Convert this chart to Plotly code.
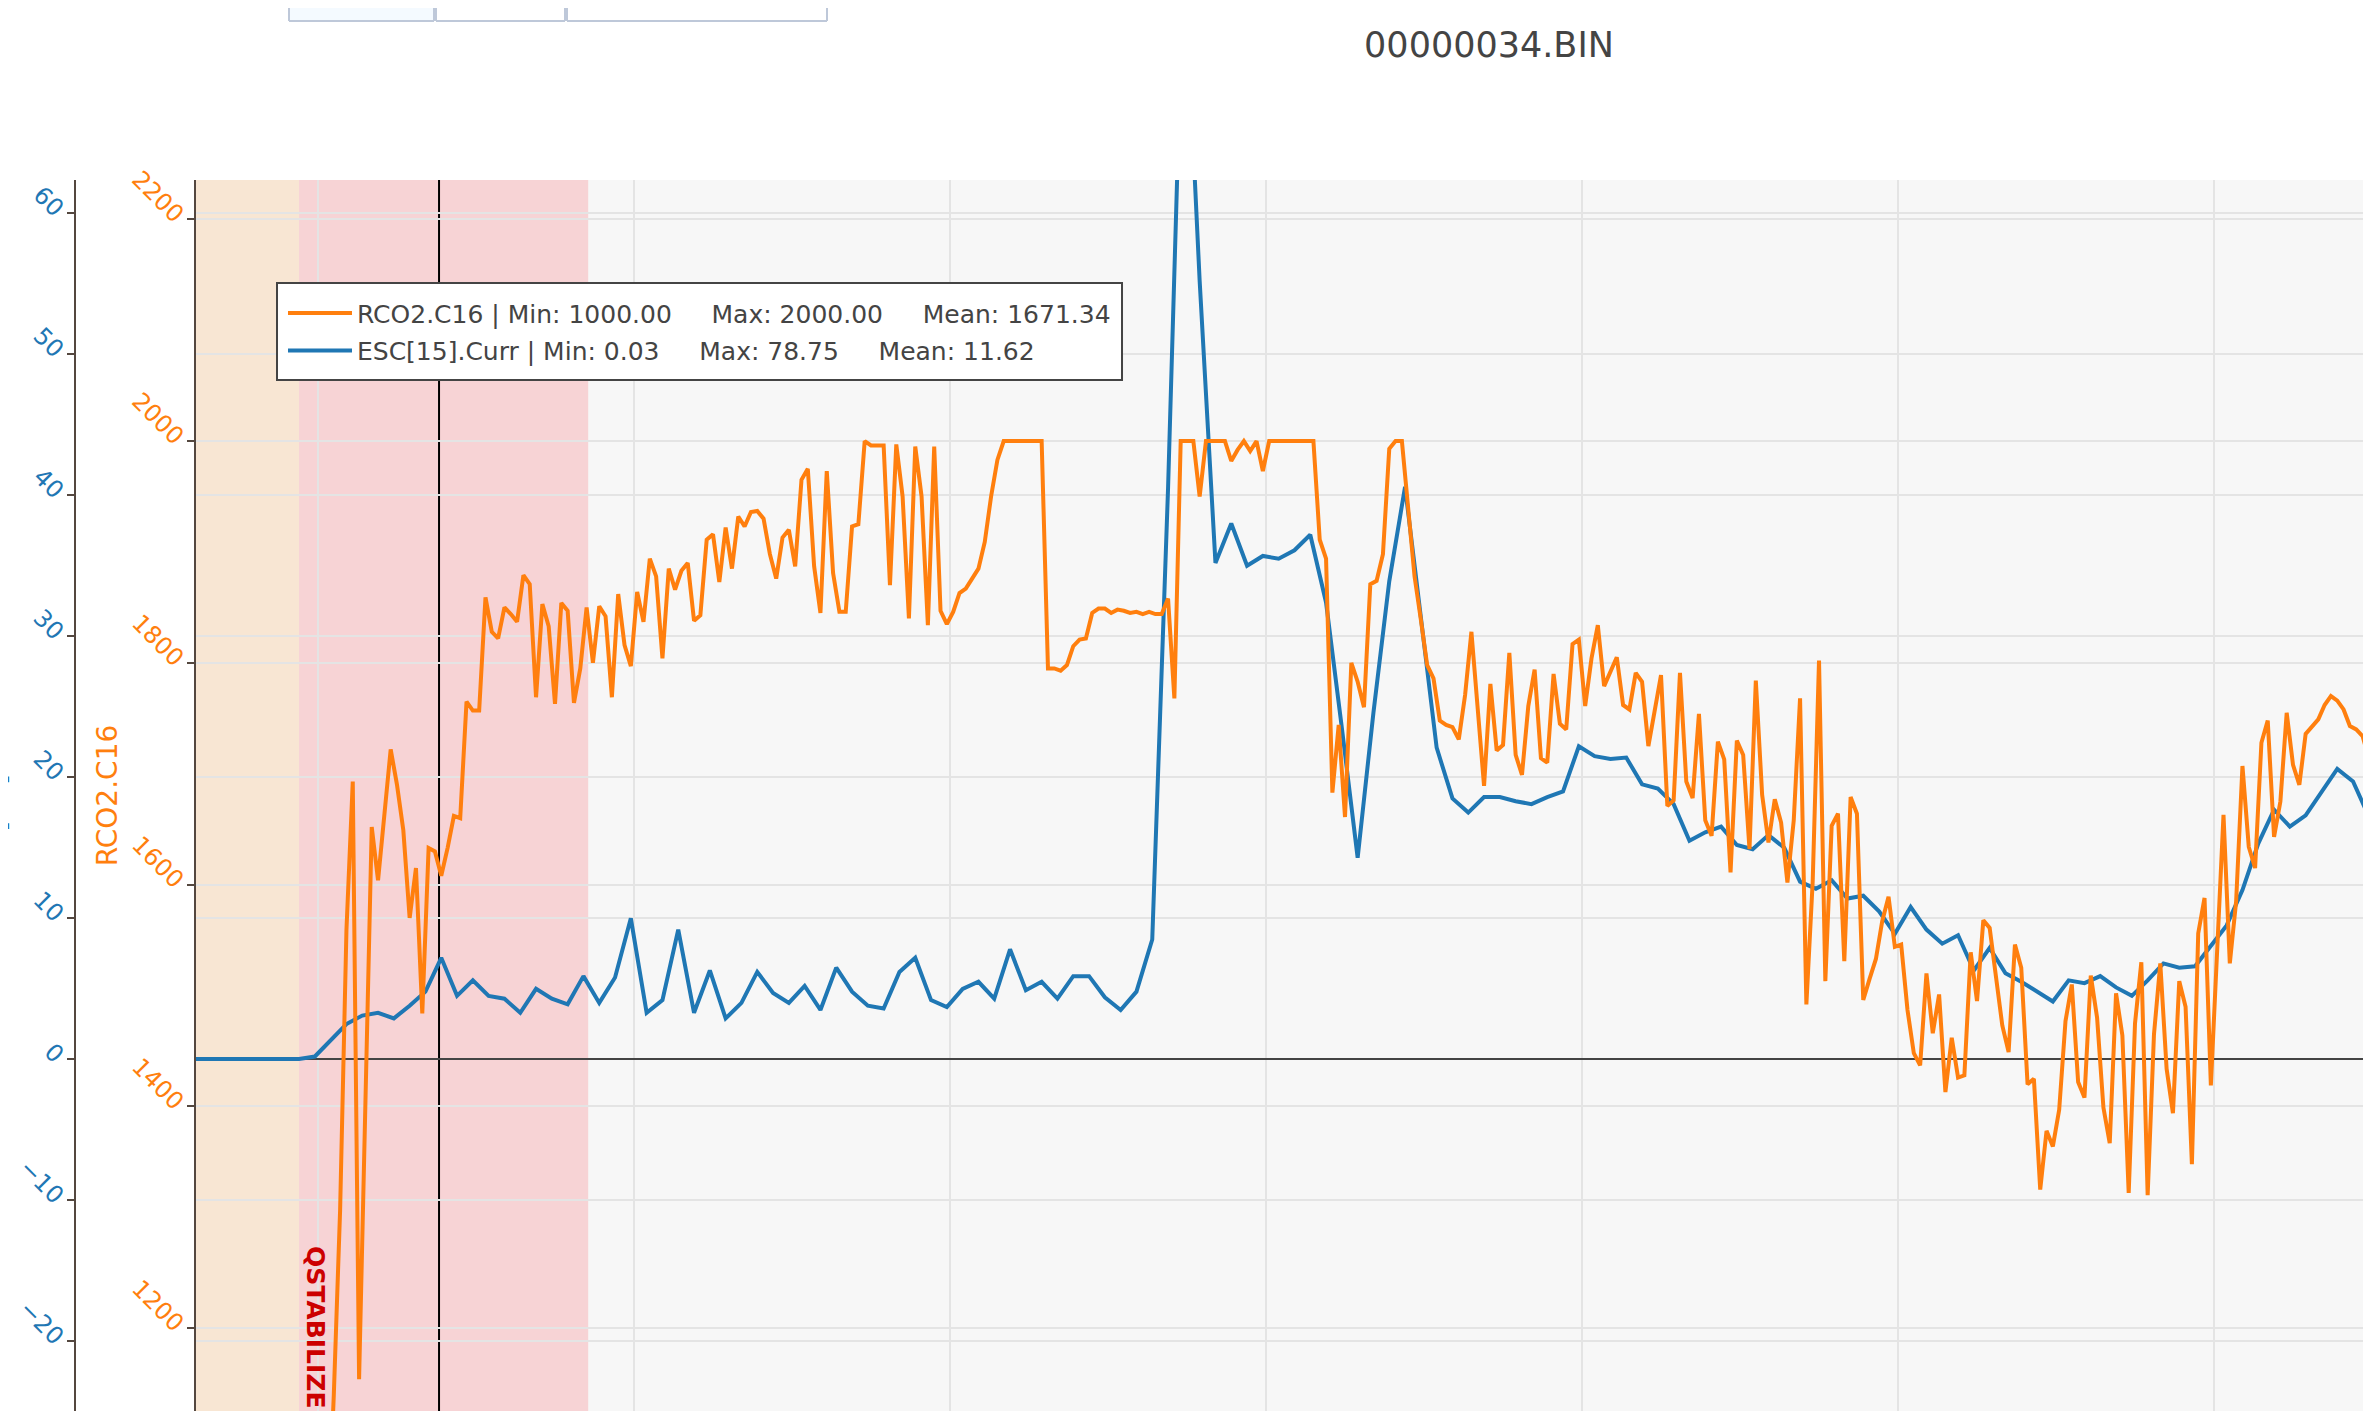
import plotly.graph_objects as go

# ---------------- data ----------------
TITLE = "00000034.BIN"
ORANGE_NAME = "RCO2.C16"
BLUE_NAME = "ESC[15].Curr"
ORANGE_STATS = "Min: 1000.00     Max: 2000.00     Mean: 1671.34"
BLUE_STATS = "Min: 0.03     Max: 78.75     Mean: 11.62"

# ESC[15].Curr, sampled every 0.5 s starting at t = 5.9 s
BLUE_T0 = 5.9
BLUE_DT = 0.5
BLUE_V = [
    0.03, 0.03, 0.03, 0.03, 0.03, 0.03, 0.03, 0.03,
    0.2, 1.4, 2.5, 3.1, 3.3, 2.9, 3.8, 4.8, 7.2, 4.5,
    5.6, 4.5, 4.3, 3.3, 5.0, 4.3, 3.9, 5.9, 4.0, 5.8,
    10.0, 3.3, 4.2, 9.2, 3.3, 6.3, 2.9, 4.0, 6.2, 4.7,
    4.0, 5.2, 3.5, 6.5, 4.8, 3.8, 3.6, 6.2, 7.2, 4.2,
    3.7, 5.0, 5.5, 4.3, 7.8, 4.9, 5.5, 4.3, 5.9, 5.9,
    4.4, 3.5, 4.8, 8.5, 40.5, 78.75, 55.2, 35.2, 38.0, 35.0,
    35.7, 35.5, 36.1, 37.2, 32.4, 23.5, 14.3, 24.6, 33.9, 40.6,
    31.3, 22.1, 18.5, 17.5, 18.6, 18.6, 18.3, 18.1, 18.6, 19.0,
    22.2, 21.5, 21.3, 21.4, 19.5, 19.2, 18.1, 15.5, 16.1, 16.5,
    15.2, 14.9, 15.9, 15.0, 12.6, 12.1, 12.7, 11.4, 11.6, 10.5,
    8.9, 10.8, 9.2, 8.2, 8.8, 6.3, 7.9, 6.1, 5.5, 4.8,
    4.1, 5.6, 5.4, 5.9, 5.1, 4.5, 5.6, 6.8, 6.5, 6.6,
    8.0, 9.5, 12.0, 15.3, 17.7, 16.5, 17.3, 18.9, 20.6, 19.7,
    17.2, 15.0,
]

# RCO2.C16 (time in s, value)
ORANGE_T = [
    6.0, 10.3, 10.5, 10.7, 10.9, 11.1, 11.3, 11.7, 11.9, 12.3, 12.5, 12.7, 12.9,
    13.1, 13.3, 13.5, 13.7, 13.9, 14.1, 14.3, 14.5, 14.7, 14.9, 15.1, 15.3, 15.5,
    15.7, 15.9, 16.1, 16.3, 16.5, 16.7, 16.9, 17.1, 17.3, 17.5, 17.7, 17.9, 18.1,
    18.3, 18.5, 18.7, 18.9, 19.1, 19.3, 19.5, 19.7, 19.9, 20.1, 20.3, 20.5, 20.7,
    20.9, 21.1, 21.3, 21.5, 21.7, 21.9, 22.1, 22.3, 22.5, 22.7, 22.9, 23.1, 23.3,
    23.5, 23.7, 23.9, 24.1, 24.3, 24.5, 24.7, 24.9, 25.1, 25.3, 25.5, 25.7, 25.9,
    26.1, 26.3, 26.5, 26.7, 26.9, 27.1, 27.3, 27.5, 27.9, 28.1, 28.3, 28.5, 28.7,
    28.9, 29.1, 29.3, 29.5, 29.7, 29.9, 30.1, 30.3, 30.5, 30.7, 30.9, 31.1, 31.3,
    31.5, 31.7, 32.9, 33.1, 33.3, 33.5, 33.7, 33.9, 34.1, 34.3, 34.5, 34.7, 34.9,
    35.1, 35.3, 35.5, 35.7, 35.9, 36.1, 36.3, 36.5, 36.7, 36.9, 37.1, 37.3, 37.7,
    37.9, 38.1, 38.7, 38.9, 39.1, 39.3, 39.5, 39.7, 39.9, 40.1, 41.5, 41.7, 41.9,
    42.1, 42.3, 42.5, 42.7, 42.9, 43.1, 43.3, 43.5, 43.7, 43.9, 44.1, 44.3, 44.7,
    44.9, 45.1, 45.3, 45.5, 45.7, 45.9, 46.1, 46.3, 46.5, 46.7, 46.9, 47.1, 47.3,
    47.5, 47.7, 47.9, 48.1, 48.3, 48.5, 48.7, 48.9, 49.1, 49.3, 49.5, 49.7, 49.9,
    50.1, 50.3, 50.5, 50.7, 50.9, 51.1, 51.3, 51.5, 51.7, 51.9, 52.1, 52.3, 52.5,
    52.7, 52.9, 53.1, 53.3, 53.5, 53.7, 53.9, 54.1, 54.3, 54.5, 54.7, 54.9, 55.1,
    55.3, 55.5, 55.7, 55.9, 56.1, 56.3, 56.5, 56.7, 56.9, 57.1, 57.3, 57.5, 57.7,
    57.9, 58.1, 58.3, 58.5, 58.7, 58.9, 59.1, 59.3, 59.5, 59.7, 59.9, 60.1, 60.3,
    60.5, 60.7, 60.9, 61.1, 61.3, 61.5, 61.7, 61.9, 62.1, 62.3, 62.5, 62.7, 62.9,
    63.1, 63.3, 63.5, 63.7, 63.9, 64.1, 64.3, 64.5, 64.7, 64.9, 65.1, 65.3, 65.5,
    65.7, 65.9, 66.1, 66.3, 66.5, 66.7, 66.9, 67.1, 67.3, 67.5, 67.7, 67.9, 68.1,
    68.3, 68.5, 68.7, 68.9, 69.1, 69.3, 69.5, 69.7, 69.9, 70.1, 70.3, 70.5, 70.7,
    70.9, 71.1, 71.3, 71.5, 71.7, 71.9, 72.1, 72.3, 72.5, 72.7, 72.9, 73.1, 73.3,
    73.5, 73.7, 73.9, 74.1, 74.3, 74.5, 74.7, 74.9, 75.1,
]
ORANGE_V = [
    1000, 1000, 1140, 1307, 1559, 1693, 1154, 1652, 1604, 1722, 1690, 1649, 1570,
    1615, 1484, 1633, 1630, 1608, 1633, 1662, 1660, 1765, 1757, 1757, 1859, 1828,
    1822, 1850, 1844, 1837, 1879, 1871, 1769, 1853, 1833, 1763, 1854, 1847, 1764,
    1795, 1850, 1800, 1851, 1842, 1769, 1862, 1816, 1797, 1864, 1837, 1894, 1878,
    1804, 1885, 1866, 1883, 1890, 1838, 1843, 1911, 1916, 1873, 1922, 1885, 1932,
    1923, 1936, 1937, 1930, 1898, 1876, 1913, 1920, 1887, 1965, 1975, 1887, 1845,
    1973, 1881, 1846, 1846, 1923, 1925, 2000, 1996, 1996, 1870, 1997, 1950, 1840,
    1995, 1950, 1834, 1995, 1847, 1835, 1846, 1863, 1867, 1876, 1885, 1909, 1950,
    1983, 2000, 2000, 1795, 1795, 1793, 1798, 1815, 1821, 1822, 1845, 1849, 1849,
    1845, 1848, 1847, 1845, 1846, 1844, 1846, 1844, 1844, 1858, 1768, 2000, 2000,
    1950, 2000, 2000, 1982, 1992, 2000, 1991, 2000, 1973, 2000, 2000, 1911, 1894,
    1683, 1744, 1661, 1800, 1783, 1760, 1871, 1874, 1898, 1993, 2000, 2000, 1878,
    1839, 1798, 1786, 1748, 1744, 1742, 1731, 1771, 1828, 1761, 1689, 1781, 1721,
    1726, 1809, 1717, 1699, 1761, 1794, 1714, 1710, 1790, 1745, 1740, 1817, 1821,
    1761, 1804, 1834, 1779, 1792, 1805, 1762, 1758, 1791, 1783, 1725, 1756, 1789,
    1671, 1676, 1791, 1693, 1678, 1754, 1658, 1644, 1729, 1713, 1611, 1730, 1717,
    1632, 1784, 1681, 1638, 1677, 1656, 1602, 1658, 1768, 1492, 1603, 1802, 1513,
    1653, 1664, 1531, 1679, 1664, 1496, 1515, 1533, 1567, 1589, 1544, 1546, 1487,
    1448, 1437, 1520, 1466, 1501, 1413, 1462, 1426, 1428, 1539, 1495, 1568, 1561,
    1517, 1473, 1449, 1546, 1525, 1420, 1425, 1325, 1378, 1364, 1397, 1477, 1510,
    1422, 1408, 1518, 1480, 1399, 1367, 1502, 1464, 1322, 1475, 1530, 1320, 1465,
    1529, 1434, 1394, 1513, 1490, 1348, 1556, 1588, 1419, 1545, 1663, 1529, 1585,
    1707, 1634, 1615, 1728, 1748, 1643, 1675, 1755, 1708, 1690, 1736, 1743, 1749,
    1762, 1770, 1766, 1758, 1743, 1740, 1734, 1714, 1711,
]

# flight-mode bands and cursor (time in s)
PRE_MODE_START = 4.0
MODE_NAME = "QSTABILIZE"
MODE_START = 9.4
MODE_END = 18.55
CURSOR_T = 13.83

X_RANGE = [6.139, 88.86]
BLUE_RANGE = [-24.94, 62.36]
ORANGE_RANGE = [1125.4, 2235.4]

BUTTON_LABELS = ["Normalize", "Absolute", "Toggle flight modes"]

# ---------------- figure ----------------
W, H = 2962, 1573
ORANGE = "#ff7f0e"
BLUE = "#1f77b4"
AXIS = "#54473f"
GRID = "#e4e4e4"

blue_t = [round(BLUE_T0 + BLUE_DT * i, 2) for i in range(len(BLUE_V))]

fig = go.Figure()
fig.add_trace(go.Scatter(
    x=ORANGE_T, y=ORANGE_V, yaxis="y2", mode="lines",
    name=f"{ORANGE_NAME} | {ORANGE_STATS}", legendgroup="a",
    line=dict(color=ORANGE, width=4),
))
fig.add_trace(go.Scatter(
    x=blue_t, y=BLUE_V, yaxis="y", mode="lines",
    name=f"{BLUE_NAME} | {BLUE_STATS}", legendgroup="b",
    line=dict(color=BLUE, width=4),
))

common_y = dict(
    showline=True, linecolor=AXIS, linewidth=2,
    ticks="outside", ticklen=7, tickwidth=2, tickcolor=AXIS,
    tickangle=45, showgrid=True, gridcolor=GRID, gridwidth=2,
    automargin=False,
)

fig.update_layout(
    template="none",
    width=W, height=H,
    margin=dict(l=67, r=160, t=172, b=170, pad=0, autoexpand=False),
    paper_bgcolor="white", plot_bgcolor="#f7f7f7",
    font=dict(family="DejaVu Sans", size=24, color="#444"),
    title=dict(text=TITLE, x=0.5, xanchor="center", y=1 - 36.8 / H,
               yanchor="middle", font=dict(size=35, color="#444")),
    showlegend=True,
    legend=dict(x=0.07605, y=0.9104, xanchor="left", yanchor="top",
                bgcolor="rgba(0,0,0,0)", borderwidth=0,
                font=dict(size=25, color="#444"), itemwidth=64,
                traceorder="grouped", tracegroupgap=2),
    xaxis=dict(domain=[0.04424, 1], range=X_RANGE, dtick=10, tick0=0,
               showgrid=True, gridcolor=GRID, gridwidth=2,
               showticklabels=False, zeroline=False, showline=False,
               automargin=False),
    yaxis=dict(range=BLUE_RANGE, dtick=10, anchor="free", position=0, side="left",
               tickfont=dict(size=24, color=BLUE),
               zeroline=True, zerolinecolor="#444", zerolinewidth=2,
               **common_y),
    yaxis2=dict(range=ORANGE_RANGE, dtick=200, overlaying="y", anchor="x",
                side="left",
                title=dict(text=ORANGE_NAME, font=dict(size=28, color=ORANGE)),
                tickfont=dict(size=24, color=ORANGE), zeroline=False,
                **common_y),
    shapes=[
        dict(type="rect", xref="x", yref="paper", x0=PRE_MODE_START, x1=MODE_START,
             y0=0, y1=1, fillcolor="#f8e6d3", line=dict(width=0), layer="below"),
        dict(type="rect", xref="x", yref="paper", x0=MODE_START, x1=MODE_END,
             y0=0, y1=1, fillcolor="#f7d3d5", line=dict(width=0), layer="below"),
        dict(type="line", xref="x", yref="paper", x0=CURSOR_T, x1=CURSOR_T,
             y0=0, y1=1, line=dict(color="black", width=2), layer="below"),
        # legend frame
        dict(type="rect", xref="paper", yref="paper", x0=0.07386, x1=0.38282,
             y0=0.83753, y1=0.91633, fillcolor="white",
             line=dict(color="#444", width=2), layer="above"),
    ],
    annotations=[
        dict(text=f"<b>{MODE_NAME}</b>", x=MODE_START, xref="x", y=0, yref="paper",
             xanchor="left", yanchor="bottom", textangle=90, showarrow=False,
             font=dict(size=25, color="#cc0000", family="DejaVu Sans")),
        # title of the outer (blue) axis: it sits at the very left edge, mostly cut off
        dict(text=BLUE_NAME, x=-0.0221, xref="paper", y=0.5, yref="paper",
             xanchor="right", yanchor="middle", textangle=-90, showarrow=False,
             font=dict(size=28, color=BLUE, family="DejaVu Sans")),
    ],
    updatemenus=[dict(
        type="buttons", direction="right", active=0, showactive=True,
        x=0.0775, xanchor="left", y=1.1305, yanchor="bottom",
        pad=dict(t=0, b=0, l=0, r=0),
        bgcolor="white", bordercolor="#bec8d9", borderwidth=2,
        font=dict(size=24, color="#444"),
        buttons=[
            dict(label=BUTTON_LABELS[0] + "<br>&nbsp;", method="relayout",
                 args=[{"yaxis2.type": "linear"}]),
            dict(label=BUTTON_LABELS[1] + "<br>&nbsp;", method="relayout",
                 args=[{"yaxis2.type": "log"}]),
            dict(label=BUTTON_LABELS[2] + "<br>&nbsp;", method="relayout",
                 args=[{"shapes[0].visible": True}]),
        ],
    )],
)

fig.write_html("out.html")
